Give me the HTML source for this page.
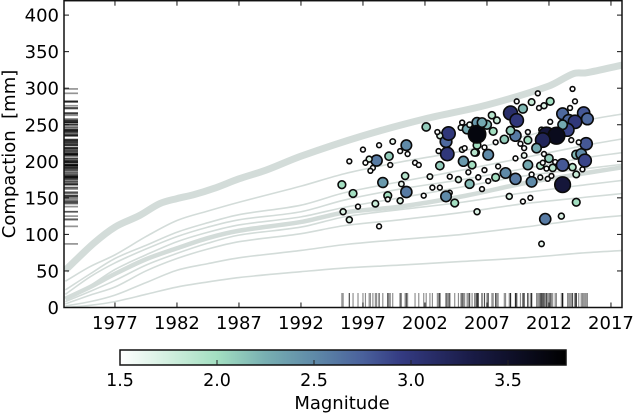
<!DOCTYPE html>
<html>
<head>
<meta charset="utf-8">
<style>
html,body{margin:0;padding:0;background:#fff;}
svg{display:block;}
text{font-family:"DejaVu Sans","Liberation Sans",sans-serif;fill:#000;}
</style>
</head>
<body>
<svg id="chart" width="633" height="414" viewBox="0 0 633 414" xmlns="http://www.w3.org/2000/svg">
<defs>
<linearGradient id="cmap" x1="0" x2="1" y1="0" y2="0"></linearGradient>
</defs>
</svg>
<script>
var xTickYears = [1977, 1982, 1987, 1992, 1997, 2002, 2007, 2012, 2017];
var yTickValues = [0, 50, 100, 150, 200, 250, 300, 350, 400];
var colorbarTicks = [1.5, 2.0, 2.5, 3.0, 3.5];

var thinYears = [1973, 1975, 1977, 1979.5, 1982, 1984.5, 1987, 1992, 1995.5, 2000, 2005, 2010, 2015, 2018];
var thinLineA = [36, 56, 72, 97, 119, 132, 144, 166, 183, 199, 214, 234, 256, 265];
var thinLineB = [24, 46, 67, 85, 103, 116, 127, 140, 157, 172, 188, 205, 222, 231];
var thinLineC = [18, 42, 61, 80, 97, 110, 120, 131, 147, 162, 175, 190, 205, 212];
var thinLineD = [12, 30, 52, 72, 90, 103, 113, 124, 137, 150, 165, 180, 190, 196];
var thinLineE = [8, 22, 37, 58, 74, 88, 99, 110, 124, 134, 144, 157, 168, 174];
var thinLineF = [5, 17, 28, 50, 67, 80, 90, 101, 112, 120, 130, 142, 151, 156];
var thinLineG = [2, 8, 17, 34, 51, 60, 68, 78, 86, 93, 100, 110, 121, 126];
var thinLineH = [0, 3, 8, 18, 28, 35, 41, 49, 54, 58, 63, 68, 75, 78];
var thickMiddle = [12, 28, 46, 66, 81, 95, 105, 117, 130, 138, 152, 170, 184, 192];

var topYears = [1973, 1975.3, 1977, 1979, 1980.6, 1982, 1983.3, 1985, 1987, 1989.2, 1992, 1997, 2002, 2007, 2012, 2014, 2015, 2018];
var thickTop = [51, 88, 110, 126, 142, 149, 154, 163, 176, 188, 207, 235, 258, 277, 303, 320, 321, 332];

var eventYears = [2002.1,1999.4,1998.3,1997.0,2000.5,2000.0,2000.6,1999.1,1998.1,1997.5,1997.2,1995.9,1999.2,1997.8,1997.6,2001.2,2001.5,2000.4,1998.6,2000.1,1995.3,1996.2,2000.5,1999.0,1999.0,2000.0,1998.0,1996.6,1995.4,1995.9,1998.3,2002.4,2002.6,2003.2,2001.9,2004.0,2003.7,2004.4,2006.2,2003.2,2003.7,2003.9,2003.8,2003.1,2003.2,2003.0,2005.0,2004.9,2005.4,2005.6,2006.2,2005.0,2005.2,2005.1,2005.8,2004.0,2004.7,2005.5,2005.6,2006.3,2006.1,2006.2,2006.2,2007.4,2007.0,2007.8,2007.5,2006.6,2008.9,2009.4,2008.9,2009.9,2009.4,2010.6,2011.1,2011.2,2011.6,2012.1,2013.9,2014.1,2013.7,2013.1,2014.8,2015.1,2013.6,2014.1,2013.5,2013.1,2012.1,2011.4,2011.8,2012.6,2011.5,2010.3,2010.3,2009.3,2008.9,2008.4,2007.7,2006.8,2006.0,2007.1,2009.7,2010.0,2009.3,2010.0,2011.0,2011.6,2012.0,2010.3,2011.3,2011.5,2012.3,2011.8,2012.5,2013.1,2013.9,2014.7,2014.2,2014.2,2014.6,2014.9,2015.0,2014.4,2013.8,2013.1,2014.2,2013.0,2011.7,2011.4,2010.5,2009.9,2008.8,2006.6,2008.5,2009.3,2010.6,2007.7,2007.9,2006.8,2006.3,2007.1,2010.6,2011.3,2011.9,2012.2];
var eventCompaction = [247,227,222,216,222,214,210,207,201,203,198,200,195,191,187,198,195,180,171,169,168,156,158,153,148,146,142,138,131,120,111,179,164,164,153,157,152,143,131,194,227,238,210,214,235,240,253,246,244,250,253,216,218,200,195,179,175,185,169,178,212,222,237,263,250,256,241,253,266,256,242,272,282,281,293,273,276,282,299,282,273,265,266,258,256,254,243,250,254,243,236,235,229,229,240,235,242,230,226,219,212,209,224,218,204,208,218,210,204,195,194,198,191,190,199,195,192,189,182,209,210,201,224,226,229,168,144,125,121,87,150,145,152,162,184,176,172,178,193,188,178,173,182,178,176,180];
var eventMagnitudes = [2.1,1.6,1.5,1.5,2.5,1.5,1.5,2.1,2.6,1.7,1.5,1.5,1.5,1.5,1.5,1.5,1.5,1.9,2.4,1.6,2.0,2.0,2.6,2.0,1.5,1.7,1.8,1.5,1.7,1.7,1.5,1.6,1.5,1.5,1.5,1.5,2.5,2.0,1.7,2.1,2.7,3.0,3.0,1.5,1.7,1.5,1.5,1.6,2.3,1.6,2.4,1.6,1.5,2.4,2.0,1.5,1.7,1.5,2.2,1.5,1.9,2.0,3.7,1.9,2.2,1.8,2.0,2.3,3.1,3.0,2.1,2.2,1.5,1.8,1.5,1.5,1.7,2.0,1.5,1.5,1.5,2.7,2.8,2.7,2.7,3.0,2.9,2.3,1.5,1.6,3.4,3.6,3.2,2.0,1.5,2.6,2.1,2.1,1.5,1.5,1.9,2.5,1.5,1.5,1.5,1.6,2.3,1.5,2.1,2.3,1.9,1.5,1.9,1.5,1.5,2.8,1.9,1.5,1.8,2.2,2.5,2.9,2.8,1.5,1.5,3.4,2.0,1.7,2.6,1.6,1.5,1.5,1.7,1.5,2.5,2.6,2.5,2.0,1.5,1.5,1.5,1.5,1.5,1.5,1.5,1.5];

var cmapValues = [1.5, 1.75, 2.0, 2.25, 2.5, 2.75, 2.95, 3.3, 3.8];
var cmapColors = ['#ffffff', '#d2efdf', '#a3dfc1', '#78afb2', '#5f8aa8', '#4a619c', '#343b82', '#1a1c48', '#000000'];

var svg = document.getElementById('chart');
var NS = 'http://www.w3.org/2000/svg';
var plot = {left: 64, right: 622, top: 0.7, bottom: 307.5};
var cbar = {left: 120, right: 566, top: 350, bottom: 365};

function xScale(year) { return 64 + (year - 1972.89) * 12.4; }
function yScale(value) { return 307.5 - value * 0.731; }
function cbScale(mag) { return 120 + (mag - 1.5) * 194; }
function rScale(mag) { return 2.4 + Math.max(0, mag - 1.5) * 2.85; }

function hexToRgb(h) {
  return [parseInt(h.substr(1, 2), 16), parseInt(h.substr(3, 2), 16), parseInt(h.substr(5, 2), 16)];
}
function magColor(m) {
  var i = 0;
  if (m <= cmapValues[0]) return cmapColors[0];
  while (i < cmapValues.length - 2 && m > cmapValues[i + 1]) i++;
  var t = Math.min(1, (m - cmapValues[i]) / (cmapValues[i + 1] - cmapValues[i]));
  var a = hexToRgb(cmapColors[i]);
  var b = hexToRgb(cmapColors[i + 1]);
  return 'rgb(' + Math.round(a[0] + (b[0] - a[0]) * t) + ',' + Math.round(a[1] + (b[1] - a[1]) * t) + ',' + Math.round(a[2] + (b[2] - a[2]) * t) + ')';
}
function make(tag, attrs, parent) {
  var el = document.createElementNS(NS, tag);
  for (var k in attrs) el.setAttribute(k, attrs[k]);
  (parent || svg).appendChild(el);
  return el;
}
function group(name) {
  var g = make('g', {});
  
  
  return g;
}
/* smooth curve through the data points (Catmull-Rom as cubic Beziers) */
function linePath(years, values) {
  var pts = years.map(function (yr, i) { return [xScale(yr), yScale(values[i])]; });
  var d = 'M' + pts[0][0].toFixed(2) + ' ' + pts[0][1].toFixed(2);
  for (var i = 0; i < pts.length - 1; i++) {
    var p0 = pts[Math.max(0, i - 1)];
    var p1 = pts[i];
    var p2 = pts[i + 1];
    var p3 = pts[Math.min(pts.length - 1, i + 2)];
    var dx = (p2[0] - p1[0]) / 3;
    var s1 = (p2[1] - p0[1]) / (p2[0] - p0[0]);
    var s2 = (p3[1] - p1[1]) / (p3[0] - p1[0]);
    d += 'C' + (p1[0] + dx).toFixed(2) + ' ' + (p1[1] + s1 * dx).toFixed(2) + ' ' +
         (p2[0] - dx).toFixed(2) + ' ' + (p2[1] - s2 * dx).toFixed(2) + ' ' +
         p2[0].toFixed(2) + ' ' + p2[1].toFixed(2);
  }
  return d;
}

/* colour map gradient */
var grad = document.getElementById('cmap');
cmapValues.forEach(function (v, i) {
  var s = document.createElementNS(NS, 'stop');
  s.setAttribute('offset', ((v - 1.5) / 2.3).toFixed(4));
  s.setAttribute('stop-color', cmapColors[i]);
  grad.appendChild(s);
});

/* clip marks to the axes */
var defs = svg.querySelector('defs');
var clip = document.createElementNS(NS, 'clipPath');
clip.setAttribute('id', 'plot-clip');
defs.appendChild(clip);
make('rect', {x: plot.left, y: plot.top, width: plot.right - plot.left, height: plot.bottom - plot.top}, clip);

/* compaction lines */
var linesGroup = group('compaction-lines');
linesGroup.setAttribute('clip-path', 'url(#plot-clip)');
[thinLineA, thinLineB, thinLineC, thinLineD, thinLineE, thinLineF, thinLineG, thinLineH].forEach(function (vals) {
  var p = make('path', {d: linePath(thinYears, vals), fill: 'none', stroke: '#d3dcd9', 'stroke-width': 1.6}, linesGroup);
  
  
});
var midLine = make('path', {d: linePath(thinYears, thickMiddle), fill: 'none', stroke: '#d3dcd9', 'stroke-width': 4.5}, linesGroup);


var topLine = make('path', {d: linePath(topYears, thickTop), fill: 'none', stroke: '#d3dcd9', 'stroke-width': 7}, linesGroup);



/* rugs */
var xRug = group('x-rug');
var yRug = group('y-rug');
eventYears.forEach(function (yr, i) {
  var rx = xScale(yr);
  var ry = yScale(eventCompaction[i]);
  var a = make('line', {x1: rx, x2: rx, y1: 293, y2: 307.5, stroke: '#000', 'stroke-opacity': 0.45, 'stroke-width': 1.15}, xRug);
  
  
  var b = make('line', {x1: 64, x2: 78, y1: ry, y2: ry, stroke: '#000', 'stroke-opacity': 0.42, 'stroke-width': 1.7}, yRug);
  
  
});

/* events */
var pointsGroup = group('earthquake-points');
eventYears.forEach(function (yr, i) {
  var c = make('circle', {
    cx: xScale(yr).toFixed(2),
    cy: yScale(eventCompaction[i]).toFixed(2),
    r: rScale(eventMagnitudes[i]).toFixed(2),
    fill: magColor(eventMagnitudes[i]),
    stroke: '#0a0a0a',
    'stroke-width': 1.6
  }, pointsGroup);
  
  
});

/* axes frame */
var frame = make('rect', {x: plot.left, y: plot.top, width: plot.right - plot.left, height: plot.bottom - plot.top, fill: 'none', stroke: '#111', 'stroke-width': 1.5});



/* x axis */
var xAxis = group('x-axis');
xTickYears.forEach(function (yr) {
  var x = xScale(yr);
  make('line', {x1: x, x2: x, y1: plot.bottom, y2: plot.bottom - 5, stroke: '#111', 'stroke-width': 1}, xAxis);
  make('line', {x1: x, x2: x, y1: plot.top, y2: plot.top + 5, stroke: '#111', 'stroke-width': 1}, xAxis);
  var t = make('text', {x: x, y: 329, 'text-anchor': 'middle', 'font-size': 18}, xAxis);
  
  
  t.textContent = String(yr);
});

/* y axis */
var yAxis = group('y-axis');
yTickValues.forEach(function (v) {
  var y = yScale(v);
  make('line', {x1: plot.left, x2: plot.left + 5, y1: y, y2: y, stroke: '#111', 'stroke-width': 1}, yAxis);
  make('line', {x1: plot.right, x2: plot.right - 5, y1: y, y2: y, stroke: '#111', 'stroke-width': 1}, yAxis);
  var t = make('text', {x: 59, y: y + 6.5, 'text-anchor': 'end', 'font-size': 18}, yAxis);
  
  
  t.textContent = String(v);
});
var yTitle = make('text', {x: 15, y: 154, 'text-anchor': 'middle', 'font-size': 18, transform: 'rotate(-90 15 154)', style: 'white-space:pre'});


yTitle.textContent = 'Compaction  [mm]';

/* colour bar */
var cbGroup = group('colorbar');
var cbRect = make('rect', {x: cbar.left, y: cbar.top, width: cbar.right - cbar.left, height: cbar.bottom - cbar.top, fill: 'url(#cmap)', stroke: '#111', 'stroke-width': 1.5}, cbGroup);


colorbarTicks.forEach(function (m) {
  var x = cbScale(m);
  make('line', {x1: x, x2: x, y1: cbar.bottom, y2: cbar.bottom - 5, stroke: '#222', 'stroke-width': 1}, cbGroup);
  var t = make('text', {x: x, y: 386, 'text-anchor': 'middle', 'font-size': 17.5}, cbGroup);
  
  
  t.textContent = m.toFixed(1);
});
var cbTitle = make('text', {x: 342, y: 409, 'text-anchor': 'middle', 'font-size': 18}, cbGroup);


cbTitle.textContent = 'Magnitude';
</script>
</body>
</html>
